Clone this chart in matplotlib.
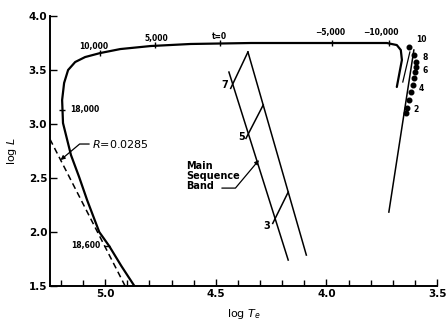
import matplotlib
matplotlib.use('Agg')
import matplotlib.pyplot as plt
import numpy as np

# evolutionary track (log Te, log L)
track_T = [4.868, 4.927, 4.982, 5.027, 5.082, 5.118, 5.155, 5.191, 5.195, 5.186,
           5.168, 5.136, 5.091, 5.023, 4.932, 4.795, 4.614, 4.341, 3.727, 3.682,
           3.664, 3.659, 3.682]
track_L = [1.50, 1.685, 1.87, 2.00, 2.296, 2.509, 2.713, 3.009, 3.222, 3.38,
           3.50, 3.574, 3.62, 3.657, 3.694, 3.722, 3.741, 3.75, 3.75, 3.731,
           3.685, 3.593, 3.343]

# time marks along the horizontal part
time_T = [5.023, 4.773, 4.482, 3.973, 3.718]
time_L = [3.657, 3.731, 3.75, 3.75, 3.75]
time_lbl = ['10,000', '5,000', 't=0', '\u22125,000', '\u221210,000']
time_lbl_T = [5.05, 4.768, 4.482, 3.982, 3.755]
time_lbl_L = [3.72, 3.796, 3.806, 3.843, 3.843]

# marks on the vertical part
vmark_T = [5.195, 4.991]
vmark_L = [3.13, 1.87]
vmark_lbl = ['18,000', '18,600']

# constant radius line R = 0.0285  (log L = 4 log Te + c)
R_T = [5.25, 4.91]
R_c = -18.14

# main sequence band
ms_left_T = [4.441, 4.173]
ms_left_L = [3.481, 1.741]
ms_right_T = [4.355, 4.091]
ms_right_L = [3.667, 1.787]
ms_mass = ['7', '5', '3']
ms_cross_T0 = [4.423, 4.354, 4.233]
ms_cross_L0 = [3.38, 2.917, 2.13]
ms_cross_T1 = [4.355, 4.286, 4.173]
ms_cross_L1 = [3.667, 3.176, 2.37]
ms_lbl_T = [4.46, 4.385, 4.27]
ms_lbl_L = [3.36, 2.88, 2.06]

# red giant branch points
rg_line_T = [3.718, 3.605]
rg_line_L = [2.185, 3.685]
thin_T = [3.623, 3.655]
thin_L = [3.667, 3.389]
dot_T = [3.627, 3.605, 3.595, 3.595, 3.600, 3.605, 3.609, 3.618, 3.627, 3.636, 3.641]
dot_L = [3.713, 3.639, 3.574, 3.528, 3.481, 3.426, 3.361, 3.296, 3.222, 3.148, 3.102]
rg_lbl = ['10', '8', '6', '4', '2']
rg_lbl_T = [3.595, 3.568, 3.568, 3.582, 3.605]
rg_lbl_L = [3.778, 3.62, 3.50, 3.333, 3.13]

fig = plt.figure(figsize=(4.46, 3.20), dpi=100)
ax = fig.add_axes([0.112, 0.106, 0.868, 0.844])

ax.plot(track_T, track_L, color='black', lw=1.6, solid_capstyle='round')
ax.plot(time_T, time_L, ls='none', marker='|', ms=5, mew=1.0, color='black')
ax.plot(vmark_T, vmark_L, ls='none', marker='_', ms=5, mew=1.0, color='black')
for t, l, s in zip(time_lbl_T, time_lbl_L, time_lbl):
    ax.text(t, l, s, fontsize=5.5, fontweight='bold', ha='center', va='center')
ax.text(vmark_T[0] - 0.035, vmark_L[0], vmark_lbl[0], fontsize=5.5, fontweight='bold',
        ha='left', va='center')
ax.text(vmark_T[1] + 0.03, vmark_L[1] + 0.01, vmark_lbl[1], fontsize=5.5, fontweight='bold',
        ha='right', va='center')

rT = np.array(R_T)
ax.plot(rT, 4 * rT + R_c, color='black', lw=1.1, ls=(0, (4, 2.5)))
ax.annotate('$R$=0.0285', xy=(5.202, 2.667), xytext=(5.06, 2.815), fontsize=8,
            ha='left', va='center',
            arrowprops=dict(arrowstyle='-|>', color='black', lw=0.9, mutation_scale=6,
                            shrinkA=0, shrinkB=0,
                            connectionstyle='angle,angleA=0,angleB=40,rad=0'))

ax.plot(ms_left_T, ms_left_L, color='black', lw=1.1)
ax.plot(ms_right_T, ms_right_L, color='black', lw=1.1)
for t0, l0, t1, l1 in zip(ms_cross_T0, ms_cross_L0, ms_cross_T1, ms_cross_L1):
    ax.plot([t0 + 0.01, t1], [l0 - 0.05, l1], color='black', lw=1.1)
for t, l, s in zip(ms_lbl_T, ms_lbl_L, ms_mass):
    ax.text(t, l, s, fontsize=7, fontweight='bold', ha='center', va='center')
ax.text(4.636, 2.52, 'Main\nSequence\nBand', fontsize=7, fontweight='bold',
        ha='left', va='center', linespacing=1.0)
ax.annotate('', xy=(4.305, 2.667), xytext=(4.473, 2.407),
            arrowprops=dict(arrowstyle='-|>', color='black', lw=0.9, mutation_scale=6,
                            shrinkA=0, shrinkB=0,
                            connectionstyle='angle,angleA=0,angleB=50,rad=0'))

ax.plot(rg_line_T, rg_line_L, color='black', lw=1.1)
ax.plot(thin_T, thin_L, color='black', lw=0.9)
ax.plot(dot_T, dot_L, ls='none', marker='o', ms=3.3, color='black')
for t, l, s in zip(rg_lbl_T, rg_lbl_L, rg_lbl):
    ax.text(t, l, s, fontsize=5.5, fontweight='bold', ha='left', va='center')

ax.set_xlim(5.25, 3.5)
ax.set_ylim(1.5, 4.0)
ax.set_xticks([5.0, 4.5, 4.0, 3.5])
ax.set_xticklabels(['5.0', '4.5', '4.0', '3.5'])
ax.set_xticks(np.arange(3.6, 5.25, 0.1), minor=True)
ax.set_yticks([1.5, 2.0, 2.5, 3.0, 3.5, 4.0])
ax.tick_params(axis='both', which='both', direction='in', labelsize=7.5, width=1.0)
ax.tick_params(axis='x', which='major', length=5, pad=2)
ax.tick_params(axis='x', which='minor', length=4)
ax.tick_params(axis='y', which='major', length=5, pad=2)
for lab in ax.get_xticklabels() + ax.get_yticklabels():
    lab.set_fontweight('bold')
ax.spines['top'].set_visible(False)
ax.spines['right'].set_visible(False)
ax.spines['left'].set_linewidth(1.4)
ax.spines['bottom'].set_linewidth(1.4)
ax.set_xlabel('log $T_e$', fontsize=8, labelpad=6)
ax.set_ylabel('log $L$', fontsize=8, labelpad=7)

fig.savefig('out.png', dpi=100)
